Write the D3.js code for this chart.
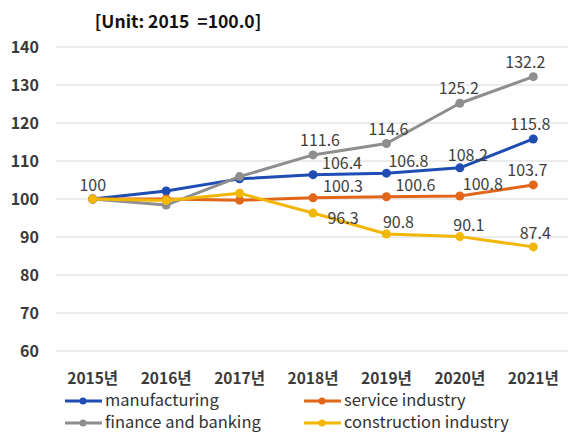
<!DOCTYPE html>
<html>
<head>
<meta charset="utf-8">
<script src="https://cdn.jsdelivr.net/npm/d3@7"></script>
<style>
  body { margin: 0; background: #fff; }
  text { font-family: "Noto Sans CJK KR", "Noto Sans", sans-serif; }
</style>
</head>
<body>
<svg id="chart" width="568" height="435"></svg>
<script>
// Data
var years = ["2015년", "2016년", "2017년", "2018년", "2019년", "2020년", "2021년"];
var seriesNames = ["manufacturing", "service industry", "finance and banking", "construction industry"];
var manufacturing = [100, 102.1, 105.3, 106.4, 106.8, 108.2, 115.8];
var service = [100, 100.0, 99.7, 100.3, 100.6, 100.8, 103.7];
var finance = [100, 98.4, 105.9, 111.6, 114.6, 125.2, 132.2];
var construction = [100, 99.6, 101.5, 96.3, 90.8, 90.1, 87.4];
var yTicks = [60, 70, 80, 90, 100, 110, 120, 130, 140];

// which points carry a label (index of year)
var labelled = [[3, 4, 5, 6], [3, 4, 5, 6], [3, 4, 5, 6], [0, 3, 4, 5, 6]];

// label offsets (dx, dy) per series / point
var labelDx = [
	[0, 0, 0, 29, 22, 8, -3],
	[0, 0, 0, 30, 29, 23, -6],
	[0, 0, 0, 7, 2, -1, -8],
	[0, 0, 0, 30, 12, 9, 2]
];
var labelDy = [
	[-8, -8, -8, -6, -6, -7, -9],
	[-8, -8, -8, -6, -6, -6, -9],
	[-8, -8, -8, -9, -9, -9, -9],
	[-8, -8, -8, 11, -6, -6, -8]
];

var colors = ["#1f4db3", "#e2661a", "#8e8e8e", "#f2b705"];
var values = [manufacturing, service, finance, construction];

var svg = d3.select("#chart");

var x = d3.scaleBand()
	.domain(years)
	.range([56, 570]);

var y = d3.scaleLinear()
	.domain([60, 140])
	.range([351, 47]);

// Title
svg.append("text")
	.attr("x", 178)
	.attr("y", 28)
	.attr("text-anchor", "middle")
	.attr("font-size", "17.5px")
	.attr("font-weight", "bold")
	.attr("fill", "#111")
	.attr("xml:space", "preserve")
	.text("[Unit: 2015  =100.0]");

// Grid lines
svg.append("g")
	.selectAll("line")
	.data(yTicks)
	.enter()
	.append("line")
	.attr("x1", 56)
	.attr("x2", 568)
	.attr("y1", d => y(d))
	.attr("y2", d => y(d))
	.style("stroke", "#d9d9d9")
	.style("stroke-width", 1.2);

// Y axis labels
svg.append("g")
	.selectAll("text")
	.data(yTicks)
	.enter()
	.append("text")
	.attr("x", 39)
	.attr("y", d => y(d) + 5.5)
	.attr("text-anchor", "end")
	.attr("font-size", "16px")
	.attr("font-weight", "bold")
	.attr("fill", "#3a3a3a")
	.text(d => d);

// X axis labels
svg.append("g")
	.selectAll("text")
	.data(years)
	.enter()
	.append("text")
	.attr("x", d => x(d) + x.bandwidth() / 2)
	.attr("y", 383.5)
	.attr("text-anchor", "middle")
	.attr("font-size", "15.5px")
	.attr("font-weight", "bold")
	.attr("fill", "#3a3a3a")
	.text(d => d);

var line = d3.line()
	.x((d, i) => x(years[i]) + x.bandwidth() / 2)
	.y(d => y(d));

// Lines and markers
values.forEach(function(vals, s){
	var g = svg.append("g");
	g.append("path")
		.datum(vals)
		.attr("d", line)
		.style("fill", "none")
		.style("stroke", colors[s])
		.style("stroke-width", 3)
		.style("stroke-linejoin", "round");
	g.selectAll("circle")
		.data(vals)
		.enter()
		.append("circle")
		.attr("cx", (d, i) => x(years[i]) + x.bandwidth() / 2)
		.attr("cy", d => y(d))
		.attr("r", 4.5)
		.style("fill", colors[s]);
});

// Data labels
values.forEach(function(vals, s){
	svg.append("g")
		.selectAll("text")
		.data(labelled[s])
		.enter()
		.append("text")
		.attr("x", i => x(years[i]) + x.bandwidth() / 2 + labelDx[s][i])
		.attr("y", i => y(vals[i]) + labelDy[s][i])
		.attr("text-anchor", "middle")
		.attr("font-size", "16px")
		.attr("fill", "#404040")
		.text(i => vals[i] === 100 ? "100" : d3.format(".1f")(vals[i]));
});

// Legend
var legendPos = [[65, 401], [304, 401], [65, 423], [304, 423]];
var legend = svg.append("g");
seriesNames.forEach(function(name, s){
	var p = legendPos[s];
	legend.append("line")
		.attr("x1", p[0])
		.attr("x2", p[0] + 37)
		.attr("y1", p[1])
		.attr("y2", p[1])
		.style("stroke", colors[s])
		.style("stroke-width", 3);
	legend.append("circle")
		.attr("cx", p[0] + 18)
		.attr("cy", p[1])
		.attr("r", 3.5)
		.style("fill", colors[s]);
	legend.append("text")
		.attr("x", p[0] + 40)
		.attr("y", p[1] + 5)
		.attr("font-size", "16.5px")
		.attr("font-family", "'Noto Sans', sans-serif")
		.attr("fill", "#333")
		.text(name);
});
</script>
</body>
</html>
